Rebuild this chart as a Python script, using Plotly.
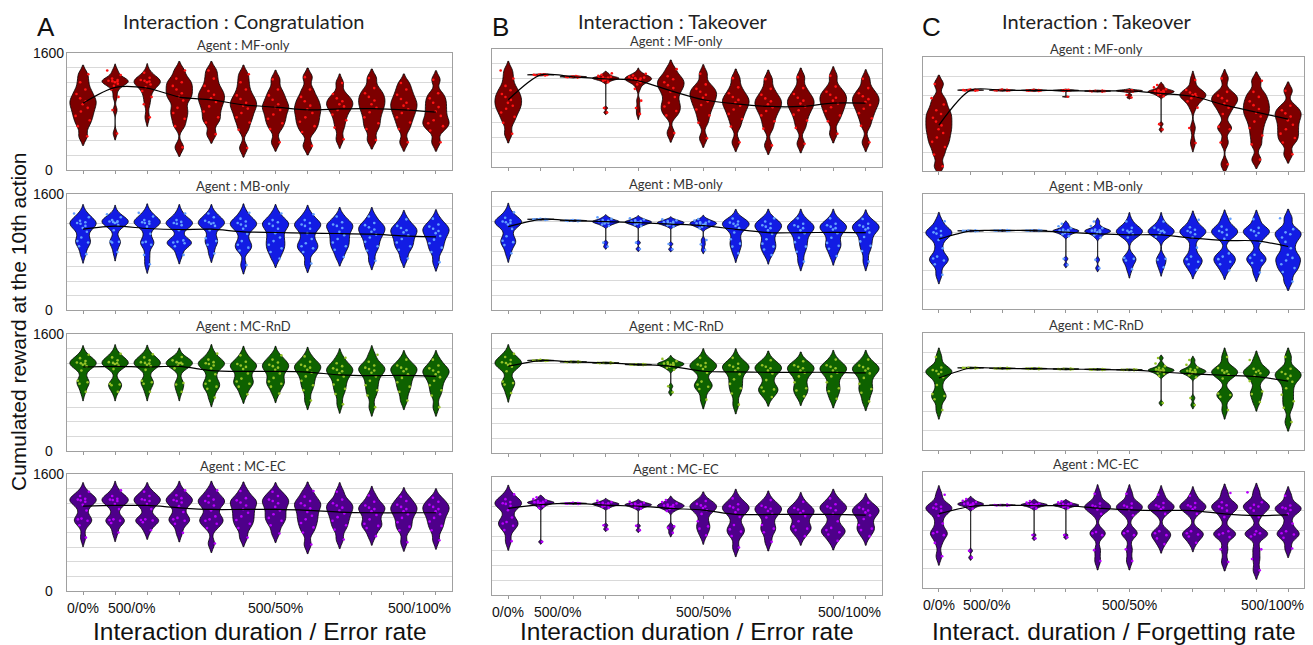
import numpy as np
import plotly.graph_objects as go

W, H = 1313, 645

# ---------------- categories / labels ----------------
POSITIONS = list(range(12))
XTICK_POS = [0, 1.5, 6, 10.5]
XTICK_TEXT = ["0/0%", "500/0%", "500/50%", "500/100%"]
COLUMN_LETTERS = ["A", "B", "C"]
COLUMN_TITLES = ["Interaction : Congratulation", "Interaction : Takeover", "Interaction : Takeover"]
X_TITLES = ["Interaction duration / Error rate", "Interaction duration / Error rate",
            "Interact. duration / Forgetting rate"]
Y_TITLE = "Cumulated reward at the 10th action"
AGENTS = ["MF-only", "MB-only", "MC-RnD", "MC-EC"]
YMAX = [1600, 1600, 1800]
YGRID = [200, 200, 300]
YTICK_VALS = [0, 1600]

# ---------------- data: column A (Congratulation) ----------------
A_MF = [
    [460, 600, 680, 740, 800, 850, 900, 940, 980, 1040, 1100, 1200, 1310],
    [500, 820, 1000, 1100, 1150, 1180, 1200, 1210, 1215, 1220, 1230, 1250, 1300, 1360],
    [720, 900, 1000, 1080, 1130, 1170, 1200, 1210, 1220, 1230, 1260, 1330],
    [310, 600, 700, 780, 850, 950, 1000, 1050, 1100, 1150, 1200, 1250, 1360],
    [490, 650, 720, 800, 870, 930, 980, 1030, 1080, 1150, 1250, 1360],
    [300, 550, 650, 720, 780, 840, 880, 920, 970, 1020, 1100, 1200, 1310],
    [380, 560, 640, 700, 760, 820, 860, 900, 960, 1020, 1100, 1240],
    [330, 520, 600, 660, 720, 780, 830, 880, 940, 1000, 1100, 1270],
    [420, 580, 680, 760, 820, 870, 900, 940, 980, 1040, 1190],
    [410, 560, 640, 720, 790, 850, 900, 950, 1000, 1050, 1120, 1257],
    [380, 560, 650, 720, 780, 830, 880, 920, 970, 1030, 1100, 1190],
    [380, 540, 600, 640, 680, 740, 800, 860, 920, 980, 1050, 1234],
]
A_MB = [
    [770, 880, 930, 950, 1000, 1080, 1130, 1160, 1190, 1200, 1210, 1230, 1280, 1330],
    [800, 930, 940, 945, 1100, 1170, 1200, 1210, 1215, 1220, 1225, 1240, 1280, 1320],
    [630, 760, 900, 930, 940, 1050, 1150, 1190, 1200, 1210, 1220, 1240, 1290, 1340],
    [760, 880, 920, 930, 940, 960, 1100, 1170, 1190, 1200, 1215, 1240, 1330],
    [780, 900, 950, 990, 1100, 1160, 1190, 1200, 1210, 1230, 1280, 1330],
    [620, 820, 860, 900, 950, 1050, 1120, 1160, 1180, 1200, 1220, 1260, 1340],
    [710, 800, 850, 900, 950, 1000, 1060, 1120, 1160, 1190, 1210, 1240, 1330],
    [640, 800, 850, 880, 920, 980, 1060, 1120, 1160, 1180, 1200, 1240, 1320],
    [730, 830, 880, 930, 980, 1030, 1080, 1130, 1160, 1180, 1210, 1290],
    [680, 820, 880, 940, 1000, 1040, 1080, 1110, 1140, 1170, 1200, 1290],
    [710, 830, 880, 930, 980, 1030, 1070, 1100, 1130, 1160, 1250],
    [660, 800, 860, 920, 970, 1020, 1060, 1090, 1120, 1150, 1180, 1260],
]
A_RND = [
    [810, 920, 940, 960, 1100, 1160, 1180, 1195, 1200, 1210, 1230, 1270, 1317],
    [810, 900, 910, 920, 1120, 1170, 1190, 1200, 1205, 1215, 1240, 1280, 1330],
    [810, 920, 940, 960, 1110, 1160, 1180, 1195, 1205, 1215, 1240, 1280, 1322],
    [810, 910, 930, 1130, 1170, 1190, 1200, 1205, 1215, 1240, 1285],
    [730, 850, 880, 920, 960, 1050, 1130, 1170, 1190, 1200, 1215, 1250, 1331],
    [775, 880, 920, 950, 990, 1060, 1120, 1150, 1170, 1190, 1220, 1308],
    [785, 880, 920, 950, 1000, 1060, 1110, 1140, 1160, 1180, 1210, 1250, 1308],
    [690, 830, 900, 960, 1020, 1070, 1110, 1140, 1160, 1180, 1220, 1294],
    [640, 780, 850, 910, 970, 1020, 1060, 1090, 1110, 1130, 1160, 1200, 1276],
    [600, 760, 830, 900, 960, 1020, 1070, 1100, 1120, 1140, 1170, 1220, 1317],
    [690, 810, 880, 940, 1000, 1050, 1090, 1120, 1140, 1170, 1249],
    [600, 760, 830, 900, 960, 1010, 1050, 1080, 1100, 1130, 1170, 1249],
]
A_EC = [
    [730, 900, 960, 980, 990, 1100, 1180, 1220, 1240, 1250, 1260, 1300, 1358],
    [800, 930, 960, 970, 980, 1120, 1190, 1230, 1245, 1250, 1260, 1300, 1376],
    [830, 940, 965, 970, 980, 1120, 1190, 1230, 1245, 1255, 1300, 1358],
    [795, 920, 960, 980, 1000, 1080, 1160, 1210, 1230, 1245, 1270, 1310, 1376],
    [650, 860, 920, 960, 980, 1020, 1100, 1170, 1210, 1230, 1250, 1300, 1376],
    [730, 860, 920, 970, 1020, 1070, 1120, 1170, 1210, 1240, 1270, 1367],
    [786, 900, 960, 1000, 1050, 1100, 1150, 1200, 1230, 1250, 1300, 1358],
    [635, 800, 870, 930, 980, 1030, 1080, 1130, 1170, 1200, 1230, 1290, 1367],
    [704, 840, 900, 960, 1010, 1060, 1100, 1140, 1170, 1200, 1250, 1358],
    [750, 860, 890, 920, 980, 1040, 1090, 1120, 1140, 1170, 1220, 1307],
    [667, 830, 880, 940, 1000, 1050, 1090, 1120, 1150, 1180, 1230, 1289],
    [695, 830, 890, 950, 1000, 1050, 1090, 1120, 1150, 1180, 1220, 1275],
]

# ---------------- data: column B (Takeover, error rate) ----------------
B_MF = [
    [450, 600, 680, 740, 790, 830, 870, 910, 950, 990, 1040, 1100, 1200, 1309],
    [1240, 1245, 1248, 1250, 1250, 1252, 1255, 1258],
    [1212, 1218, 1220, 1222, 1224, 1226, 1228, 1232],
    [740, 800, 1150, 1170, 1180, 1188, 1195, 1200, 1203, 1206, 1210, 1215, 1222, 1235, 1250, 1270],
    [720, 800, 900, 1060, 1120, 1150, 1165, 1178, 1188, 1195, 1200, 1205, 1212, 1222, 1240, 1265],
    [460, 700, 760, 820, 870, 950, 1020, 1070, 1110, 1150, 1190, 1230, 1327],
    [390, 600, 700, 780, 840, 890, 940, 980, 1020, 1060, 1120, 1264],
    [334, 550, 650, 720, 780, 830, 870, 910, 950, 1000, 1080, 1205],
    [293, 520, 620, 700, 760, 810, 850, 890, 930, 980, 1060, 1191],
    [316, 530, 630, 710, 770, 820, 860, 900, 940, 990, 1070, 1218],
    [450, 620, 700, 760, 810, 860, 900, 940, 980, 1020, 1090, 1236],
    [334, 560, 660, 730, 790, 840, 880, 920, 960, 1000, 1070, 1196],
]
B_MB = [
    [770, 880, 920, 940, 1000, 1100, 1160, 1180, 1190, 1200, 1215, 1250, 1324],
    [1222, 1226, 1228, 1230, 1231, 1233, 1236],
    [1204, 1208, 1210, 1212, 1213, 1216, 1219],
    [860, 913, 1140, 1160, 1172, 1182, 1190, 1196, 1200, 1204, 1210, 1220, 1235, 1256],
    [828, 913, 1140, 1158, 1168, 1178, 1185, 1190, 1195, 1200, 1206, 1215, 1228, 1245],
    [823, 895, 1130, 1148, 1160, 1168, 1175, 1180, 1185, 1190, 1196, 1205, 1215, 1229],
    [814, 890, 950, 1110, 1130, 1145, 1155, 1163, 1170, 1176, 1182, 1190, 1200, 1212, 1234],
    [768, 860, 900, 960, 1050, 1110, 1140, 1160, 1170, 1185, 1200, 1240],
    [746, 820, 860, 900, 960, 1030, 1080, 1110, 1130, 1150, 1170, 1200, 1243],
    [656, 790, 860, 920, 980, 1040, 1080, 1110, 1130, 1150, 1170, 1243],
    [732, 830, 870, 910, 980, 1040, 1090, 1110, 1130, 1150, 1170, 1243],
    [656, 800, 870, 930, 990, 1050, 1090, 1110, 1130, 1150, 1170, 1234],
]
B_RND = [
    [807, 920, 940, 960, 1100, 1160, 1185, 1200, 1210, 1220, 1250, 1290, 1333],
    [1236, 1240, 1242, 1244, 1246, 1248, 1252],
    [1218, 1222, 1224, 1226, 1228, 1232],
    [1204, 1208, 1210, 1212, 1214, 1218],
    [1182, 1186, 1188, 1190, 1192, 1196],
    [816, 897, 1120, 1145, 1162, 1175, 1185, 1192, 1198, 1203, 1210, 1220, 1235, 1265],
    [717, 860, 890, 920, 960, 1080, 1130, 1160, 1175, 1190, 1210, 1279],
    [650, 800, 870, 930, 990, 1060, 1110, 1140, 1160, 1180, 1200, 1279],
    [753, 830, 855, 880, 980, 1070, 1110, 1140, 1160, 1180, 1247],
    [762, 840, 870, 950, 1030, 1080, 1110, 1140, 1160, 1180, 1234],
    [730, 830, 870, 950, 1030, 1080, 1110, 1140, 1160, 1180, 1256],
    [694, 810, 860, 930, 1010, 1070, 1110, 1135, 1155, 1175, 1256],
]
B_EC = [
    [730, 880, 940, 970, 990, 1050, 1150, 1210, 1235, 1245, 1260, 1300, 1364],
    [721, 1180, 1205, 1220, 1232, 1240, 1246, 1251, 1255, 1259, 1264, 1270, 1282, 1300, 1324],
    [1234, 1238, 1240, 1242, 1244, 1246, 1250],
    [893, 946, 1180, 1198, 1210, 1218, 1225, 1230, 1234, 1238, 1243, 1250, 1260, 1278],
    [879, 938, 1170, 1188, 1200, 1208, 1215, 1220, 1224, 1228, 1233, 1240, 1250, 1265],
    [843, 910, 930, 1140, 1165, 1180, 1192, 1200, 1207, 1213, 1220, 1228, 1240, 1260, 1287],
    [811, 900, 930, 1000, 1100, 1150, 1180, 1200, 1215, 1235, 1274],
    [644, 800, 860, 890, 950, 1060, 1120, 1160, 1185, 1205, 1230, 1310],
    [721, 850, 900, 950, 1050, 1100, 1140, 1170, 1190, 1210, 1287],
    [798, 880, 900, 930, 1000, 1070, 1110, 1140, 1160, 1180, 1265],
    [734, 820, 850, 880, 910, 1000, 1100, 1150, 1180, 1200, 1230, 1310],
    [798, 880, 900, 950, 1030, 1080, 1120, 1145, 1165, 1185, 1251],
]

# ---------------- data: column C (Takeover, forgetting rate) ----------------
C_MF = [
    [74, 260, 380, 460, 530, 600, 660, 720, 780, 840, 900, 960, 1050, 1150, 1373],
    [1268, 1272, 1275, 1277, 1279, 1282, 1286],
    [1266, 1270, 1273, 1276, 1278, 1281, 1285],
    [1262, 1268, 1271, 1273, 1276, 1279, 1284],
    [1172, 1262, 1267, 1270, 1272, 1275, 1278, 1283],
    [1252, 1258, 1261, 1263, 1266, 1270],
    [1160, 1200, 1255, 1262, 1266, 1268, 1271, 1276],
    [655, 740, 1180, 1205, 1222, 1235, 1243, 1250, 1255, 1260, 1266, 1275, 1290, 1320, 1357],
    [443, 680, 1000, 1100, 1150, 1180, 1200, 1215, 1240, 1280, 1436],
    [106, 450, 660, 700, 900, 1000, 1060, 1110, 1150, 1190, 1250, 1462],
    [179, 420, 560, 680, 780, 860, 920, 980, 1040, 1100, 1170, 1250, 1425],
    [264, 450, 520, 590, 660, 730, 800, 860, 910, 960, 1030, 1267],
]
C_MB = [
    [535, 700, 760, 790, 820, 950, 1080, 1150, 1180, 1200, 1220, 1260, 1372],
    [1215, 1219, 1222, 1224, 1226, 1230],
    [1220, 1224, 1227, 1229, 1231, 1235],
    [1220, 1224, 1227, 1229, 1231, 1235],
    [691, 785, 1140, 1170, 1190, 1202, 1212, 1218, 1223, 1228, 1235, 1245, 1265, 1295, 1333],
    [639, 770, 1120, 1155, 1178, 1195, 1206, 1214, 1220, 1226, 1233, 1245, 1265, 1300, 1369],
    [624, 760, 785, 800, 1120, 1170, 1200, 1215, 1225, 1240, 1270, 1369],
    [654, 770, 785, 1130, 1175, 1200, 1215, 1225, 1240, 1270, 1369],
    [613, 700, 740, 780, 820, 960, 1120, 1170, 1200, 1220, 1240, 1280, 1395],
    [602, 700, 740, 780, 820, 870, 1100, 1160, 1200, 1220, 1240, 1290, 1411],
    [571, 720, 760, 800, 850, 1050, 1150, 1190, 1215, 1235, 1270, 1406],
    [430, 580, 640, 700, 760, 800, 850, 950, 1050, 1120, 1170, 1200, 1250, 1421],
]
C_RND = [
    [615, 780, 830, 860, 1000, 1120, 1170, 1200, 1215, 1230, 1270, 1430],
    [1255, 1259, 1262, 1264, 1266, 1270],
    [1248, 1252, 1255, 1257, 1259, 1263],
    [1244, 1248, 1251, 1253, 1255, 1259],
    [1238, 1242, 1245, 1247, 1249, 1253],
    [1232, 1236, 1239, 1241, 1243, 1247],
    [1226, 1230, 1233, 1235, 1237, 1241],
    [723, 1140, 1170, 1190, 1205, 1215, 1222, 1228, 1234, 1240, 1250, 1265, 1290, 1330, 1415],
    [692, 800, 1120, 1150, 1172, 1188, 1198, 1206, 1213, 1220, 1230, 1245, 1270, 1310, 1384],
    [615, 820, 846, 870, 1100, 1160, 1190, 1210, 1225, 1260, 1430],
    [738, 860, 900, 1060, 1140, 1180, 1200, 1220, 1250, 1384],
    [430, 650, 750, 850, 950, 1050, 1100, 1140, 1170, 1200, 1250, 1430],
]
C_EC = [
    [493, 700, 820, 850, 870, 1000, 1120, 1200, 1230, 1245, 1260, 1300, 1448],
    [472, 577, 1230, 1255, 1272, 1284, 1292, 1298, 1303, 1308, 1314, 1322, 1335, 1355, 1380],
    [1278, 1282, 1285, 1287, 1289, 1293],
    [770, 823, 1235, 1255, 1268, 1276, 1282, 1287, 1291, 1295, 1299, 1304, 1312, 1325, 1350],
    [785, 823, 1240, 1258, 1268, 1275, 1280, 1284, 1288, 1292, 1297, 1303, 1312, 1328, 1345],
    [420, 587, 820, 848, 870, 1150, 1220, 1250, 1265, 1280, 1310, 1463],
    [420, 600, 820, 850, 880, 1130, 1210, 1245, 1260, 1280, 1310, 1463],
    [681, 770, 820, 850, 880, 1150, 1220, 1250, 1265, 1285, 1320, 1448],
    [702, 800, 830, 850, 880, 1150, 1220, 1250, 1265, 1285, 1320, 1432],
    [404, 600, 790, 830, 850, 880, 1100, 1200, 1240, 1265, 1285, 1330, 1474],
    [274, 450, 600, 800, 830, 850, 880, 1100, 1200, 1240, 1265, 1290, 1330, 1484],
    [613, 780, 830, 850, 880, 1000, 1150, 1210, 1235, 1250, 1280, 1432],
]

# ---------------- mean lines ----------------
A_MF_MEAN = [914, 1129, 1120, 997, 960, 891, 859, 823, 835, 838, 823, 791]
A_MB_MEAN = [1115, 1156, 1124, 1110, 1115, 1078, 1069, 1060, 1055, 1046, 1023, 1009]
A_RND_MEAN = [1149, 1158, 1149, 1158, 1100, 1089, 1089, 1080, 1040, 1030, 1035, 1021]
A_EC_MEAN = [1161, 1170, 1170, 1138, 1115, 1115, 1115, 1102, 1079, 1070, 1070, 1070]
B_MF_MEAN = [912, 1250, 1223, 1196, 1169, 1033, 912, 857, 821, 821, 866, 866]
B_MB_MEAN = [1130, 1229, 1211, 1197, 1184, 1165, 1143, 1094, 1049, 1049, 1053, 1049]
B_RND_MEAN = [1166, 1243, 1225, 1211, 1189, 1166, 1099, 1090, 1085, 1085, 1085, 1076]
B_EC_MEAN = [1174, 1225, 1242, 1219, 1206, 1174, 1151, 1092, 1092, 1092, 1092, 1083]
C_MF_MEAN = [723, 1277, 1275, 1273, 1270, 1262, 1265, 1225, 1180, 1040, 930, 820]
C_MB_MEAN = [1093, 1223, 1228, 1228, 1202, 1176, 1161, 1161, 1109, 1072, 1067, 978]
C_RND_MEAN = [1107, 1262, 1255, 1251, 1245, 1239, 1233, 1200, 1170, 1150, 1130, 1060]
C_EC_MEAN = [1150, 1265, 1286, 1276, 1276, 1239, 1213, 1202, 1202, 1150, 1124, 1135]

DATA = [[A_MF, A_MB, A_RND, A_EC], [B_MF, B_MB, B_RND, B_EC], [C_MF, C_MB, C_RND, C_EC]]
MEANS = [[A_MF_MEAN, A_MB_MEAN, A_RND_MEAN, A_EC_MEAN],
         [B_MF_MEAN, B_MB_MEAN, B_RND_MEAN, B_EC_MEAN],
         [C_MF_MEAN, C_MB_MEAN, C_RND_MEAN, C_EC_MEAN]]

# ---------------- styling ----------------
FILL_COLORS = ["rgb(125,0,0)", "rgb(18,28,228)", "rgb(14,98,0)", "rgb(78,0,138)"]
POINT_COLORS = ["rgb(255,20,20)", "rgb(100,160,255)", "rgb(150,195,40)", "rgb(185,0,255)"]
MAX_BW = [62, 62, 70]          # cap on KDE bandwidth per column (data units)

PANEL_X = [(67, 452), (492, 882), (923, 1304)]
PANEL_Y = [[(53, 170), (194, 310), (334, 451), (474, 591)],
           [(49, 167), (192, 310), (334, 453), (477, 595)],
           [(57, 171), (194, 309), (333, 450), (472, 588)]]
TITLE_CX = [243, 673, 1097]
SUB_CX = [243, 676, 1096]
LETTER_CX = [46, 500, 931]

SANS = "Liberation Sans, Arial, sans-serif"
HUMAN = "Lato, Carlito, Calibri, sans-serif"


def px_x(v):
    return v / W


def px_y(v):
    return 1 - v / H


def bandwidth(vals, cap):
    a = np.asarray(vals, dtype=float)
    q1, q3 = np.percentile(a, [25, 75])
    spread = min(a.std(ddof=1), (q3 - q1) / 1.349)
    bw = 0.9 * spread * len(a) ** -0.2
    return float(max(min(bw, cap), 2.0))


fig = go.Figure()
layout = {}
ann = []

for c in range(3):
    x0, x1 = PANEL_X[c]
    for r in range(4):
        k = c * 4 + r + 1
        sfx = "" if k == 1 else str(k)
        yt, yb = PANEL_Y[c][r]
        for pos, vals in zip(POSITIONS, DATA[c][r]):
            fig.add_trace(go.Violin(
                x=[pos] * len(vals), y=vals, xaxis="x" + sfx, yaxis="y" + sfx,
                width=0.82, spanmode="soft", scalemode="width",
                bandwidth=bandwidth(vals, MAX_BW[c]),
                points="all", pointpos=0, jitter=0.7,
                marker=dict(size=2.6, color=POINT_COLORS[r], line=dict(width=0)),
                line=dict(color="black", width=0.8), fillcolor=FILL_COLORS[r],
                box=dict(visible=False), meanline=dict(visible=False),
                showlegend=False, hoverinfo="skip"))
        fig.add_trace(go.Scatter(
            x=POSITIONS, y=MEANS[c][r], xaxis="x" + sfx, yaxis="y" + sfx,
            mode="lines", line=dict(color="black", width=1.2, shape="spline", smoothing=0.8),
            showlegend=False, hoverinfo="skip"))
        layout["xaxis" + sfx] = dict(
            domain=[px_x(x0), px_x(x1)], anchor="y" + sfx, range=[-0.5, 11.5],
            tickvals=POSITIONS, ticktext=[""] * 12, ticks="outside", ticklen=3,
            tickcolor="#999999", tickwidth=1, showgrid=False, zeroline=False,
            showline=True, mirror=True, linecolor="#a0a0a0", linewidth=1, fixedrange=True)
        layout["yaxis" + sfx] = dict(
            domain=[px_y(yb), px_y(yt)], anchor="x" + sfx, range=[0, YMAX[c]],
            tickvals=YTICK_VALS, showticklabels=False, ticks="", showgrid=False,
            zeroline=False, showline=True, mirror=True, linecolor="#a0a0a0", linewidth=1,
            minor=dict(dtick=YGRID[c], tick0=0, showgrid=True, gridcolor="#d9d9d9",
                       gridwidth=1, ticks=""), fixedrange=True)
        ann.append(dict(text="Agent : " + AGENTS[r], xref="paper", yref="paper",
                        x=px_x(SUB_CX[c]), y=px_y(yt - 8), xanchor="center", yanchor="middle",
                        showarrow=False, font=dict(family=HUMAN, size=13, color="#333333")))
        if c == 0:
            for v in YTICK_VALS:
                ann.append(dict(text=str(v), xref="paper", yref="y" + sfx,
                                x=px_x(49), y=v, xanchor="center", yanchor="middle",
                                showarrow=False, font=dict(family=SANS, size=14, color="#111111")))
        if r == 3:
            for p, t in zip(XTICK_POS, XTICK_TEXT):
                ann.append(dict(text=t, xref="x" + sfx, yref="paper", x=p,
                                y=px_y(yb + 17), xanchor="center", yanchor="middle",
                                showarrow=False, font=dict(family=SANS, size=14, color="#111111")))
            ann.append(dict(text=X_TITLES[c], xref="paper", yref="paper",
                            x=px_x((x0 + x1) / 2), y=px_y(631), xanchor="center", yanchor="middle",
                            showarrow=False, font=dict(family=SANS, size=24.5, color="#111111")))
    ann.append(dict(text=COLUMN_TITLES[c], xref="paper", yref="paper",
                    x=px_x(TITLE_CX[c]), y=px_y(21), xanchor="center", yanchor="middle",
                    showarrow=False, font=dict(family=HUMAN, size=20, color="#222222")))
    ann.append(dict(text=COLUMN_LETTERS[c], xref="paper", yref="paper",
                    x=px_x(LETTER_CX[c]), y=px_y(27), xanchor="center", yanchor="middle",
                    showarrow=False, font=dict(family=SANS, size=26, color="#111111")))

ann.append(dict(text=Y_TITLE, xref="paper", yref="paper", x=px_x(18), y=px_y(322),
                xanchor="center", yanchor="middle", textangle=-90, showarrow=False,
                font=dict(family=SANS, size=21, color="#111111")))

fig.update_layout(
    width=W, height=H, margin=dict(l=0, r=0, t=0, b=0, pad=0),
    paper_bgcolor="white", plot_bgcolor="white", violinmode="overlay",
    annotations=ann, font=dict(family=SANS), **layout)

fig.write_html("out.html", config={"displayModeBar": False},
               post_script="document.body.style.margin='0';")
